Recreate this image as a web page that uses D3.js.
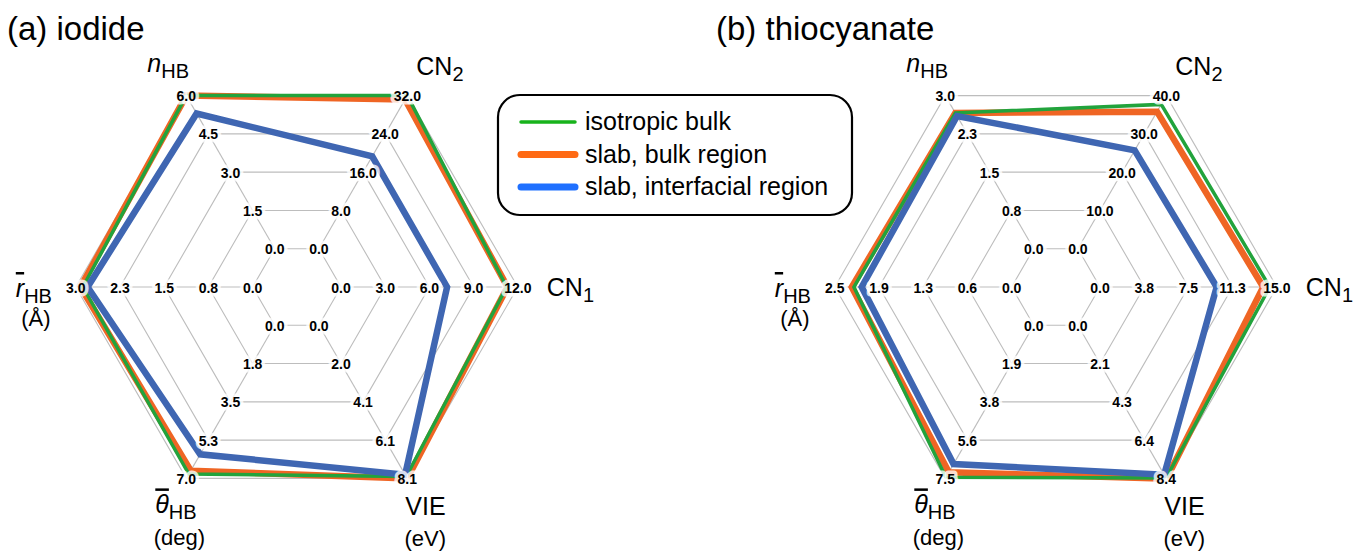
<html><head>
<title>Radar charts - iodide and thiocyanate</title>
<script src="https://d3js.org/d3.v7.min.js"></script>
<style>
  body { margin: 0; background: #fff; }
  svg text { font-family: "Liberation Sans", Arial, Helvetica, sans-serif; fill: #000; }

  .grid { fill: none; stroke: #bdbdbd; stroke-width: 1.1; }
  .series { fill: none; stroke-linejoin: miter; }

  .tick {
    font-size: 14px; font-weight: bold;
    text-anchor: middle; dominant-baseline: central;
    paint-order: stroke; stroke: #fff; stroke-opacity: 0.78;
    stroke-width: 7px; stroke-linejoin: round;
  }
  .axis-label { font-size: 25px; }
  .bar { text-decoration: overline; }
  .unit { font-size: 22px; text-anchor: middle; }
  .title { font-size: 33px; }
  .legend text { font-size: 25px; }
</style>
</head>
<body>
<svg id="radar" width="1354" height="553"></svg>

<script>
// Axis order (counter-clockwise, starting at 3 o'clock): CN1, CN2, nHB, rHB, thetaHB, VIE
const axisNames = ["CN1", "CN2", "nHB", "rHB", "thetaHB", "VIE"];

// ---- (a) iodide ----
const iodideMax = [12.0, 32.0, 6.0, 3.0, 7.0, 8.1];
const iodideTicks = [
  ["0.0", "3.0", "6.0", "9.0", "12.0"],
  ["0.0", "8.0", "16.0", "24.0", "32.0"],
  ["0.0", "1.5", "3.0", "4.5", "6.0"],
  ["0.0", "0.8", "1.5", "2.3", "3.0"],
  ["0.0", "1.8", "3.5", "5.3", "7.0"],
  ["0.0", "2.0", "4.1", "6.1", "8.1"]
];
const iodideIsotropic   = [11.25, 32.0, 6.0, 2.88, 6.8, 8.0];
const iodideSlabBulk    = [11.3, 31.2, 6.0, 2.92, 6.65, 8.1];
const iodideSlabSurface = [7.2, 19.3, 5.3, 2.8, 5.9, 7.9];

// ---- (b) thiocyanate ----
const scnMax = [15.0, 40.0, 3.0, 2.5, 7.5, 8.4];
const scnTicks = [
  ["0.0", "3.8", "7.5", "11.3", "15.0"],
  ["0.0", "10.0", "20.0", "30.0", "40.0"],
  ["0.0", "0.8", "1.5", "2.3", "3.0"],
  ["0.0", "0.6", "1.3", "1.9", "2.5"],
  ["0.0", "1.9", "3.8", "5.6", "7.5"],
  ["0.0", "2.1", "4.3", "6.4", "8.4"]
];
const scnIsotropic   = [14.4, 37.7, 2.66, 2.23, 7.45, 8.38];
const scnSlabBulk    = [13.85, 35.8, 2.66, 2.26, 7.2, 8.42];
const scnSlabSurface = [9.9, 25.7, 2.6, 2.12, 6.8, 8.2];

const seriesNames = ["isotropic bulk", "slab, bulk region", "slab, interfacial region"];
const lineColors   = ["#22a33c", "#ef6524", "#3f66b2"];
const legendColors = ["#17b31b", "#ff6a14", "#1f70ff"];
const lineWidths   = [3.5, 6.5, 6.5];
const drawOrder    = [1, 0, 2];   // orange under green, blue on top

const svg = d3.select("svg#radar");

// rings: level 0 (value 0) sits one step out from the centre, level 4 is the max
const step = 44.2;
const levels = d3.range(5);
const rInner = step;
const rOuter = step * 5;

// d3.lineRadial angles are clockwise from 12 o'clock
const angle = i => Math.PI / 2 - i * Math.PI / 3;

// axis label text, offset from the outer vertex of each axis
const axisLabels = [
  { parts: [["CN"], ["1", "sub"]], dx: 29, dy: 9 },
  { parts: [["CN"], ["2", "sub"]], dx: 9, dy: -21 },
  { parts: [["n", "it"], ["HB", "sub"]], dx: -39, dy: -24 },
  { parts: [["r", "bar"], ["HB", "sub"]], dx: -60, dy: 10, unit: "(Å)", ux: -40, uy: 39 },
  { parts: [["\u03b8", "bar"], ["HB", "sub"]], dx: -31, dy: 35, unit: "(deg)", ux: -7, uy: 67 },
  { parts: [["VIE"]], dx: -2, dy: 37, unit: "(eV)", ux: 18, uy: 68 }
];

function drawRadar(cx, cy, title, titleX, maxes, ticks, series) {

  const g = svg.append("g").attr("transform", "translate(" + cx + "," + cy + ")");

  // one radial scale per axis
  const scales = maxes.map(m => d3.scaleLinear().domain([0, m]).range([rInner, rOuter]));

  const ring = d3.lineRadial()
    .angle((d, i) => angle(i))
    .radius(d => d)
    .curve(d3.curveLinearClosed);

  // hexagon rings
  g.selectAll("path.ring")
    .data(levels)
    .join("path")
    .attr("class", "grid ring")
    .attr("d", k => ring(d3.range(6).map(() => rInner + k * step)));

  // spokes from the inner ring to the outer ring
  g.selectAll("line.spoke")
    .data(d3.range(6))
    .join("line")
    .attr("class", "grid spoke")
    .attr("x1", i => rInner * Math.sin(angle(i)))
    .attr("y1", i => -rInner * Math.cos(angle(i)))
    .attr("x2", i => rOuter * Math.sin(angle(i)))
    .attr("y2", i => -rOuter * Math.cos(angle(i)));

  // data polygons
  const poly = d3.lineRadial()
    .angle((d, i) => angle(i))
    .radius((d, i) => scales[i](d))
    .curve(d3.curveLinearClosed);

  drawOrder.forEach(s => {
    g.append("path")
      .attr("class", "series")
      .attr("d", poly(series[s]))
      .attr("stroke", lineColors[s])
      .attr("stroke-width", lineWidths[s]);
  });

  // tick labels at every vertex (drawn last so their halo washes the lines a bit)
  d3.range(6).forEach(i => {
    levels.forEach(k => {
      const r = scales[i](k * maxes[i] / 4);
      g.append("text")
        .attr("class", "tick")
        .attr("x", r * Math.sin(angle(i)))
        .attr("y", -r * Math.cos(angle(i)) + 0.5)
        .text(ticks[i][k]);
    });
  });

  // axis names
  axisLabels.forEach((lab, i) => {
    const vx = rOuter * Math.sin(angle(i));
    const vy = -rOuter * Math.cos(angle(i));
    const t = g.append("text")
      .attr("class", "axis-label")
      .attr("x", vx + lab.dx)
      .attr("y", vy + lab.dy);
    lab.parts.forEach(p => {
      const ts = t.append("tspan").text(p[0]);
      if (p[1] === "it") ts.style("font-style", "italic");
      if (p[1] === "bar") ts.attr("class", "bar").style("font-style", "italic");
      if (p[1] === "sub") ts.attr("font-size", 20).attr("dy", 6);
    });
    if (lab.unit) {
      g.append("text")
        .attr("class", "unit")
        .attr("x", vx + lab.ux)
        .attr("y", vy + lab.uy)
        .text(lab.unit);
    }
  });

  svg.append("text")
    .attr("class", "title")
    .attr("x", titleX)
    .attr("y", 40)
    .text(title);
}

drawRadar(296.8, 287, "(a) iodide", 7, iodideMax, iodideTicks,
          [iodideIsotropic, iodideSlabBulk, iodideSlabSurface]);
drawRadar(1055.8, 287, "(b) thiocyanate", 716, scnMax, scnTicks,
          [scnIsotropic, scnSlabBulk, scnSlabSurface]);

// legend box in the middle
const legend = svg.append("g").attr("class", "legend").attr("transform", "translate(498,95)");
legend.append("rect")
  .attr("x", 0).attr("y", 0)
  .attr("width", 354).attr("height", 120)
  .attr("rx", 22)
  .attr("fill", "#fff")
  .attr("stroke", "#000")
  .attr("stroke-width", 2.2);

const rowY = d3.scaleLinear().domain([0, 2]).range([27, 92]);
seriesNames.forEach((name, s) => {
  legend.append("line")
    .attr("x1", 23).attr("x2", 77)
    .attr("y1", rowY(s)).attr("y2", rowY(s))
    .attr("stroke", legendColors[s])
    .attr("stroke-width", s === 0 ? 3.5 : 7)
    .attr("stroke-linecap", "round");
  legend.append("text")
    .attr("x", 87)
    .attr("y", rowY(s) + 8)
    .text(name);
});
</script>
</body>
</html>
